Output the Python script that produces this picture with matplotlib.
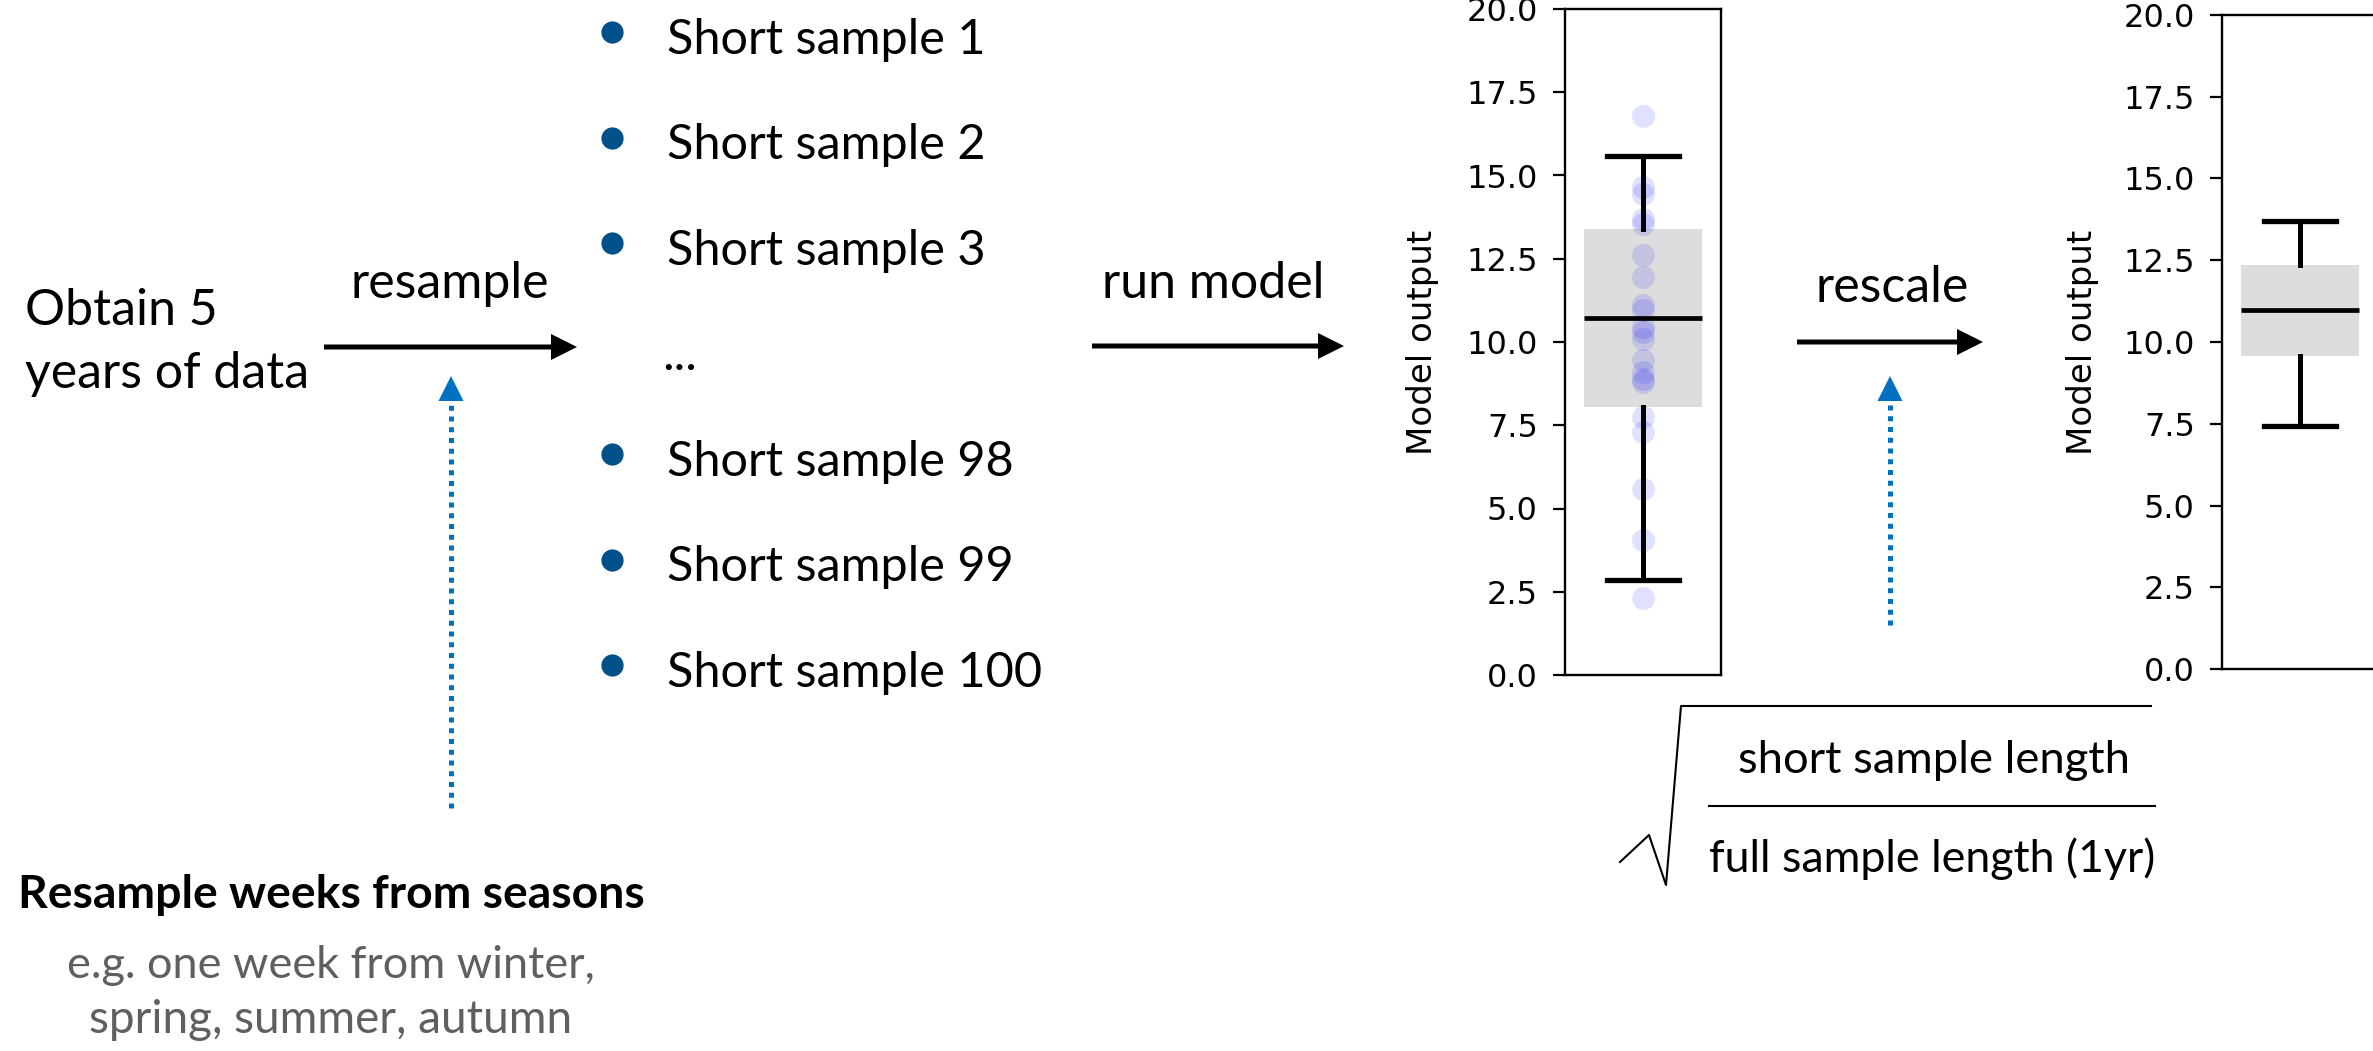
import numpy as np
import matplotlib.pyplot as plt
from matplotlib.patches import FancyArrow, Polygon

# list of short samples
samples = ["Short sample 1", "Short sample 2", "Short sample 3", "...",
           "Short sample 98", "Short sample 99", "Short sample 100"]

# model output of the short samples (points)
model_out = [16.8, 14.65, 14.45, 13.7, 13.55, 12.6, 11.95, 11.1, 10.95,
             10.45, 10.3, 10.1, 9.45, 9.1, 8.9, 8.8, 7.75, 7.3, 5.6, 4.05, 2.3]

# box statistics before and after rescaling
box_before = dict(q1=8.05, med=10.72, q3=13.4, whislo=2.85, whishi=15.58, fliers=[])
box_after = dict(q1=9.56, med=10.97, q3=12.34, whislo=7.42, whishi=13.7, fliers=[])

yticks = [0.0, 2.5, 5.0, 7.5, 10.0, 12.5, 15.0, 17.5, 20.0]

W, H = 2373, 1051
fig = plt.figure(figsize=(W / 100, H / 100), dpi=100)

# overlay axes in pixel units for the diagram part
ov = fig.add_axes([0, 0, 1, 1], zorder=0)
ov.set_xlim(0, W)
ov.set_ylim(H, 0)
ov.axis("off")

txt = dict(family="Lato", fontsize=36, color="k")
blue = "#0070c0"


def black_arrow(x0, x1, y):
    ov.add_patch(FancyArrow(x0, y, x1 - x0, 0, width=5, head_width=26, head_length=26,
                            length_includes_head=True, color="k", lw=0))


def blue_arrow(x, y_tip, y_end):
    ov.plot([x, x], [y_end, y_tip + 25], color=blue, lw=3.6, dashes=(1, 1.15))
    ov.add_patch(Polygon([[x - 12.5, y_tip + 25], [x + 12.5, y_tip + 25], [x, y_tip]],
                         color=blue, lw=0))


# left block
ov.text(25, 325, "Obtain 5", va="baseline", **txt)
ov.text(25, 388, "years of data", va="baseline", **txt)
ov.text(450, 298, "resample", ha="center", va="baseline", **txt)
black_arrow(324, 577, 347)
blue_arrow(451, 376, 808)

ov.text(331, 908, "Resample weeks from seasons", ha="center", va="baseline",
        family="Lato", fontsize=33.3, fontweight="bold", color="k")
ov.text(331, 978, "e.g. one week from winter,", ha="center", va="baseline",
        family="Lato", fontsize=32.5, color="#5f5f5f")
ov.text(331, 1033, "spring, summer, autumn", ha="center", va="baseline",
        family="Lato", fontsize=33, color="#5f5f5f")

# list of samples
for i, s in enumerate(samples):
    yb = 53.6 + 105.5 * i
    if s == "...":
        ov.text(662, yb, s, va="baseline", family="Lato", fontsize=35)
        continue
    ov.plot(612, yb - 21.6, "o", color="#00508a", ms=16, mec="none")
    ov.text(667, yb, s, va="baseline", family="Lato", fontsize=35)

ov.text(1213, 298, "run model", ha="center", va="baseline", **txt)
black_arrow(1092, 1344, 346)

ov.text(1892, 302, "rescale", ha="center", va="baseline", **txt)
black_arrow(1797, 1983, 342)
blue_arrow(1890, 376, 625)

# square root of the length ratio
ov.plot([1620, 1649, 1666, 1681, 2151], [862, 835, 885, 706, 706], color="k", lw=1.5)
ov.plot([1709, 2155], [806, 806], color="k", lw=1.5)
ov.text(1934, 773, "short sample length", ha="center", va="baseline",
        family="Lato", fontsize=32.7)
ov.text(1932, 872, "full sample length (1yr)", ha="center", va="baseline",
        family="Lato", fontsize=32.2)


def box_axes(rect, stats, points=None, label_x=-0.81):
    ax = fig.add_axes(rect, zorder=1)
    ax.bxp([stats], positions=[0], widths=0.756, capwidths=0.46, patch_artist=True,
           showfliers=False,
           boxprops=dict(facecolor="#dddddd", edgecolor="none", zorder=1),
           whiskerprops=dict(color="k", lw=3.6, zorder=3),
           capprops=dict(color="k", lw=3.8, zorder=3),
           medianprops=dict(color="k", lw=3.4, zorder=3))
    if points is not None:
        ax.plot(np.zeros(len(points)), points, "o", color="blue", alpha=0.12,
                ms=16.5, mec="none", zorder=2)
    ax.set_xlim(-0.5, 0.5)
    ax.set_xticks([])
    ax.set_ylim(0, 20)
    ax.set_yticks(yticks)
    ax.set_yticklabels([f"{t:.1f}" for t in yticks], family="DejaVu Sans", fontsize=23)
    ax.tick_params(axis="y", length=8.6, width=1.6, pad=11)
    for sp in ax.spines.values():
        sp.set_linewidth(1.7)
    ax.set_ylabel("Model output", family="DejaVu Sans", fontsize=24.5)
    ax.yaxis.set_label_coords(label_x, 0.5)
    return ax


box_axes([1565 / W, 1 - 675 / H, 156 / W, 666 / H], box_before, model_out, -0.81)
box_axes([2222 / W, 1 - 669 / H, 156 / W, 654 / H], box_after, None, -0.79)

fig.savefig("out.png", dpi=100)
